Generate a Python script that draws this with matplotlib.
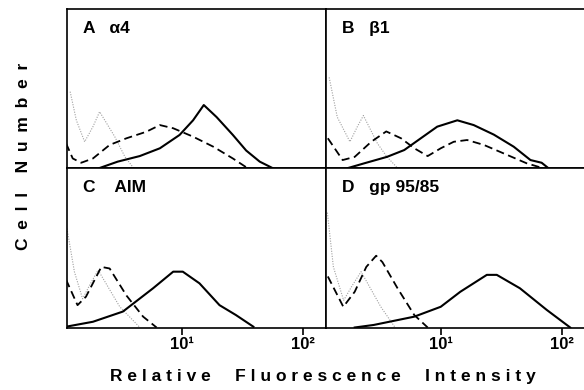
"""Flow cytometry histograms: four panels, log fluorescence axis."""
import matplotlib
matplotlib.use("Agg")
import matplotlib.pyplot as plt

# ---- data (relative fluorescence, cell number in arbitrary units) ----
A_SOLID_X = [2.1, 2.96, 4.5, 6.6, 9.6, 12.4, 15.2, 19.4, 26.4, 34, 44, 56]
A_SOLID_Y = [0, 4, 7.5, 12.4, 20.8, 30, 39.6, 32, 20.8, 11, 4, 0]
A_DASH_X = [1.11, 1.26, 1.48, 1.85, 2.54, 3.5, 5.1, 6.6, 8.5, 12.4, 18.2, 26.4, 34]
A_DASH_Y = [15.5, 6, 3.3, 6, 14.5, 18.7, 22.8, 27, 25, 19.7, 13.4, 6, 0.5]
A_DOT_X = [1.2, 1.35, 1.58, 1.85, 2.1, 2.8, 3.4, 4.0]
A_DOT_Y = [48, 30, 16.5, 26, 35.4, 19.7, 7, 0]

B_SOLID_X = [1.72, 2.35, 3.6, 5.0, 6.85, 9.35, 13.7, 18.7, 27.4, 40, 55, 68, 77]
B_SOLID_Y = [0, 3, 7, 11.3, 18.7, 26, 30, 27, 21, 13.4, 5, 3.3, 0]
B_DASH_X = [1.17, 1.55, 1.95, 2.67, 3.55, 4.7, 6.05, 7.8, 10, 12.8, 16.5,
            22.7, 35.4, 51, 69]
B_DASH_Y = [18.7, 5, 7, 16.5, 23, 18.7, 12.4, 7.5, 12.4, 16.5, 17.6,
            14.5, 8.2, 3, 0]
B_DOT_X = [1.2, 1.4, 1.78, 2.05, 2.3, 3.0, 3.6, 4.4]
B_DOT_Y = [57, 32, 16.5, 26, 33, 15.5, 7, 0]

C_SOLID_X = [1.11, 1.85, 3.27, 5.8, 8.5, 10.2, 14, 20.5, 28, 39]
C_SOLID_Y = [0.5, 3.6, 10, 24.6, 35, 35, 27.7, 14, 7.8, 0.5]
C_DASH_X = [1.11, 1.38, 1.62, 2.17, 2.54, 3.5, 4.8, 6.2]
C_DASH_Y = [30, 14, 19.3, 38, 37, 20, 6.8, 0]
C_DOT_X = [1.13, 1.3, 1.52, 1.75, 2.04, 3.08, 4.45]
C_DOT_Y = [62, 35, 18, 27, 36, 13, 0.5]

D_SOLID_X = [1.95, 2.8, 6.05, 10, 14.5, 24, 29, 45, 75, 117]
D_SOLID_Y = [0, 1.6, 6.8, 13, 22.4, 33, 33, 24.6, 11, 0]
D_DASH_X = [1.17, 1.57, 1.95, 2.43, 2.93, 3.3, 4.4, 6.05, 7.8]
D_DASH_Y = [32, 13, 22.4, 38, 45, 41, 24.6, 7.8, 0]
D_DOT_X = [1.16, 1.3, 1.58, 1.85, 2.2, 3.2, 4.2]
D_DOT_Y = [72, 38, 17, 26, 35, 13, 0]

PANEL_LABELS = ["A   α4", "B   β1", "C    AIM", "D   gp 95/85"]
TICK_VALUES = [10, 100]
TICK_LABELS = ["10¹", "10²"]

PANELS = [
    (A_SOLID_X, A_SOLID_Y, A_DASH_X, A_DASH_Y, A_DOT_X, A_DOT_Y),
    (B_SOLID_X, B_SOLID_Y, B_DASH_X, B_DASH_Y, B_DOT_X, B_DOT_Y),
    (C_SOLID_X, C_SOLID_Y, C_DASH_X, C_DASH_Y, C_DOT_X, C_DOT_Y),
    (D_SOLID_X, D_SOLID_Y, D_DASH_X, D_DASH_Y, D_DOT_X, D_DOT_Y),
]

FONT = ["Liberation Sans", "DejaVu Sans"]

W, H = 584, 390
fig = plt.figure(figsize=(W / 100, H / 100), dpi=100)

# panel boxes in pixel coordinates: (left, top, right, bottom)
boxes = [(67, 9, 326, 168), (326, 9, 585, 168),
         (67, 168, 326, 327.5), (326, 168, 585, 327.5)]

for i, ((l, t, r, b), data, label) in enumerate(zip(boxes, PANELS, PANEL_LABELS)):
    ax = fig.add_axes([l / W, 1 - b / H, (r - l) / W, (b - t) / H])
    sx, sy, dx, dy, ox, oy = data
    ax.plot(ox, oy, color="#a0a0a0", linestyle=(0, (1, 1.3)), linewidth=0.8)
    ax.plot(dx, dy, color="black", linestyle=(0, (4.5, 2.5)), linewidth=1.3)
    ax.plot(sx, sy, color="black", linewidth=1.5)
    ax.set_xscale("log")
    ax.set_xlim(1.13, 155)
    ax.set_ylim(0, 100)
    ax.set_yticks([])
    ax.minorticks_off()
    ax.set_xticks(TICK_VALUES)
    if i >= 2:
        ax.set_xticklabels(TICK_LABELS, fontsize=12, fontweight="bold", family=FONT)
    else:
        ax.set_xticklabels([])
    ax.tick_params(axis="x", direction="out", length=5, width=1.2, pad=2)
    for sp in ax.spines.values():
        sp.set_linewidth(1.2)
    ax.text(0.06, 0.88, label, transform=ax.transAxes, fontsize=12.5,
            fontweight="bold", ha="left", va="center", family=FONT)

fig.text(323 / W, 1 - 377 / H,
         "R e l a t i v e     F l u o r e s c e n c e     I n t e n s i t y",
         ha="center", va="center", fontsize=12.5, fontweight="bold", family=FONT)
fig.text(24 / W, 1 - 156 / H,
         "C\u2002e\u2002l\u2002l    N\u2002u\u2002m\u2002b\u2002e\u2002r",
         rotation=90, ha="center", va="center", fontsize=12.5, fontweight="bold",
         family=FONT)

fig.savefig("out.png", dpi=100)
